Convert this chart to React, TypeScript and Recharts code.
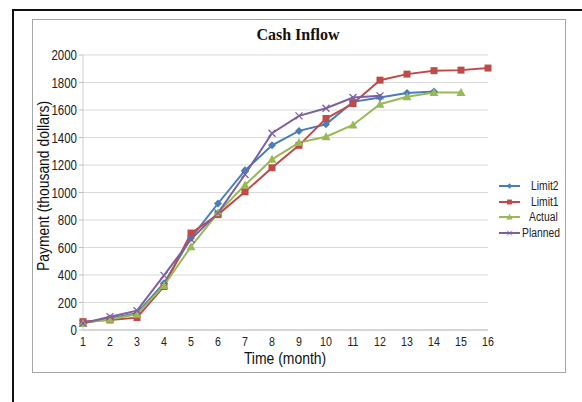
import React from 'react'
import { LineChart, Line, XAxis, YAxis, CartesianGrid } from 'recharts'

// values (thousand dollars)
const months = [1, 2, 3, 4, 5, 6, 7, 8, 9, 10, 11, 12, 13, 14, 15, 16]
const limit2 = [50, 85, 122, 340, 670, 920, 1161, 1343, 1448, 1496, 1659, 1691, 1723, 1735, null, null]
const limit1 = [61, 73, 90, 316, 705, 839, 1005, 1180, 1343, 1538, 1647, 1817, 1861, 1886, 1890, 1905]
const actual = [50, 78, 114, 324, 606, 852, 1054, 1241, 1363, 1406, 1491, 1642, 1696, 1727, 1727, null]
const planned = [49, 97, 141, 397, 660, 852, 1131, 1431, 1557, 1613, 1691, 1703, null, null, null, null]
const yTicks = [0, 200, 400, 600, 800, 1000, 1200, 1400, 1600, 1800, 2000]

const BLUE = '#4a7ebb'
const RED = '#be4b48'
const GREEN = '#98b954'
const PURPLE = '#7d60a0'

const data = months.map((m, i) => ({
  month: m,
  limit2: limit2[i],
  limit1: limit1[i],
  actual: actual[i],
  planned: planned[i],
}))

const sans = '"Liberation Sans", Arial, sans-serif'
const SQUEEZE = 0.82

function Marker({ kind, cx, cy, color }: { kind: string; cx: number; cy: number; color: string }) {
  if (cx == null || cy == null) return null
  if (kind === 'diamond') {
    return <path d={`M${cx},${cy - 4}L${cx + 4},${cy}L${cx},${cy + 4}L${cx - 4},${cy}Z`} fill={color} />
  }
  if (kind === 'square') {
    return <rect x={cx - 3.5} y={cy - 3.5} width={7} height={7} fill={color} />
  }
  if (kind === 'triangle') {
    return <path d={`M${cx},${cy - 4.5}L${cx + 4.5},${cy + 3.5}L${cx - 4.5},${cy + 3.5}Z`} fill={color} />
  }
  return (
    <path
      d={`M${cx - 3.5},${cy - 3.5}L${cx + 3.5},${cy + 3.5}M${cx + 3.5},${cy - 3.5}L${cx - 3.5},${cy + 3.5}`}
      stroke={color}
      strokeWidth={1.3}
    />
  )
}

const dotFor = (kind: string, color: string) => (props: any) => (
  <Marker key={`${kind}-${props.index}`} kind={kind} cx={props.cx} cy={props.cy} color={color} />
)

// narrow-looking tick text (no condensed font installed, so squeeze horizontally)
function XTick({ x, y, payload }: any) {
  return (
    <text
      transform={`translate(${x},${y + 8}) scale(${SQUEEZE},1)`}
      textAnchor="middle"
      fontFamily={sans}
      fontSize={13}
      fill="#222"
    >
      {payload.value}
    </text>
  )
}

function YTick({ x, y, payload }: any) {
  return (
    <text
      transform={`translate(${x},${y + 5}) scale(${SQUEEZE},1)`}
      textAnchor="end"
      fontFamily={sans}
      fontSize={14}
      fill="#222"
    >
      {payload.value}
    </text>
  )
}

const legendItems = [
  { name: 'Limit2', color: BLUE, kind: 'diamond' },
  { name: 'Limit1', color: RED, kind: 'square' },
  { name: 'Actual', color: GREEN, kind: 'triangle' },
  { name: 'Planned', color: PURPLE, kind: 'x' },
]

function LegendBox() {
  return (
    <div style={{ position: 'absolute', left: 499, top: 178, fontFamily: sans, fontSize: 12, color: '#222' }}>
      {legendItems.map((it) => (
        <div key={it.name} style={{ display: 'flex', alignItems: 'center', height: 15.7 }}>
          <svg width={22} height={10} style={{ overflow: 'visible' }}>
            <line x1={0} y1={5} x2={21} y2={5} stroke={it.color} strokeWidth={2} />
            <g transform="translate(10.5,5) scale(0.7) translate(-10.5,-5)">
              <Marker kind={it.kind} cx={10.5} cy={5} color={it.color} />
            </g>
          </svg>
          <span
            style={{
              marginLeft: it.name === 'Planned' ? 1 : it.name === 'Actual' ? 8 : 10,
              display: 'inline-block',
              transform: 'scaleX(0.86)',
              transformOrigin: 'left center',
              whiteSpace: 'nowrap',
            }}
          >
            {it.name}
          </span>
        </div>
      ))}
    </div>
  )
}

export default function App() {
  return (
    <div style={{ position: 'absolute', left: 0, top: 0, width: 582, height: 402, overflow: 'hidden', background: '#fff' }}>
      {/* outer black frame */}
      <div
        style={{
          position: 'absolute',
          left: 12,
          top: 9,
          width: 620,
          height: 440,
          borderLeft: '2px solid #111',
          borderTop: '2px solid #111',
        }}
      />
      {/* inner gray frame */}
      <div
        style={{
          position: 'absolute',
          left: 32,
          top: 19,
          width: 532,
          height: 352,
          border: '1.5px solid #a6a6a6',
        }}
      />
      <div
        style={{
          position: 'absolute',
          left: 0,
          top: 26,
          width: 596,
          textAlign: 'center',
          fontFamily: '"Liberation Serif", "Times New Roman", serif',
          fontWeight: 'bold',
          fontSize: 16,
          color: '#111',
        }}
      >
        Cash Inflow
      </div>
      <div
        style={{
          position: 'absolute',
          left: 44,
          top: 186,
          transform: 'translate(-50%, -50%) rotate(-90deg) scaleX(0.87)',
          whiteSpace: 'nowrap',
          fontFamily: sans,
          fontSize: 16,
          color: '#111',
        }}
      >
        Payment (thousand dollars)
      </div>
      <div
        style={{
          position: 'absolute',
          left: 285,
          top: 359,
          transform: 'translate(-50%, -50%) scaleX(0.87)',
          whiteSpace: 'nowrap',
          fontFamily: sans,
          fontSize: 16,
          color: '#111',
        }}
      >
        Time (month)
      </div>
      <div style={{ position: 'absolute', left: 0, top: 0 }}>
        <LineChart width={582} height={402} data={data} margin={{ top: 55, right: 94, bottom: 42, left: 0 }}>
          <CartesianGrid horizontal vertical={false} stroke="#d9d9d9" strokeWidth={1} />
          <XAxis
            dataKey="month"
            type="number"
            domain={[1, 16]}
            ticks={months}
            height={30}
            axisLine={{ stroke: '#bfbfbf' }}
            tickLine={false}
            interval={0}
            tick={<XTick />}
          />
          <YAxis
            type="number"
            domain={[0, 2000]}
            ticks={yTicks}
            width={83}
            axisLine={{ stroke: '#d0d0d0' }}
            tickLine={{ stroke: '#bfbfbf' }}
            tickSize={4}
            tickMargin={2}
            interval={0}
            tick={<YTick />}
          />
          <Line
            dataKey="limit2"
            name="Limit2"
            stroke={BLUE}
            strokeWidth={2}
            dot={dotFor('diamond', BLUE)}
            isAnimationActive={false}
          />
          <Line
            dataKey="limit1"
            name="Limit1"
            stroke={RED}
            strokeWidth={2}
            dot={dotFor('square', RED)}
            isAnimationActive={false}
          />
          <Line
            dataKey="actual"
            name="Actual"
            stroke={GREEN}
            strokeWidth={2}
            dot={dotFor('triangle', GREEN)}
            isAnimationActive={false}
          />
          <Line
            dataKey="planned"
            name="Planned"
            stroke={PURPLE}
            strokeWidth={2}
            dot={dotFor('x', PURPLE)}
            isAnimationActive={false}
          />
        </LineChart>
      </div>
      <LegendBox />
    </div>
  )
}
